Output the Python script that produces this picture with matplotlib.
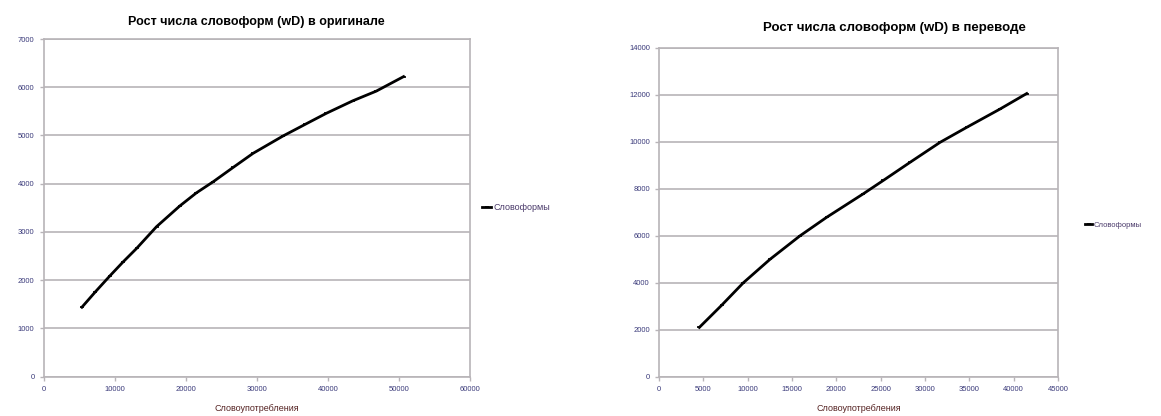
import matplotlib
matplotlib.use("Agg")
import matplotlib.pyplot as plt

# Left chart: original
orig_x = [5400, 7300, 9340, 11200, 13100, 15900, 19180, 21500, 23860, 26700,
          29480, 33700, 36800, 39790, 43530, 46820, 50650]
orig_y = [1440, 1760, 2090, 2380, 2660, 3110, 3540, 3810, 4040, 4340,
          4630, 4990, 5230, 5460, 5720, 5920, 6220]

# Right chart: translation
tr_x = [4550, 7070, 9510, 12520, 15900, 18910, 23040, 25300, 28310, 31690,
        34700, 38460, 41470]
tr_y = [2100, 3045, 4000, 5000, 6000, 6790, 7790, 8360, 9130, 9980,
        10620, 11400, 12060]

titles = ["Рост числа словоформ (wD) в оригинале", "Рост числа словоформ (wD) в переводе"]
xlabel = "Словоупотребления"
legend_label = "Словоформы"

plt.rcParams['font.family'] = ['Liberation Sans', 'DejaVu Sans']
W, H = 1161, 416
fig = plt.figure(figsize=(W / 100, H / 100), dpi=100)

tick_color = "#3a3a7a"
grid_color = "#b8b4b8"

def px_axes(x0, x1, ytop, ybot):
    return [x0 / W, 1 - ybot / H, (x1 - x0) / W, (ybot - ytop) / H]

def style(ax, xlim, xticks, ylim, yticks):
    ax.set_xlim(*xlim)
    ax.set_ylim(*ylim)
    ax.set_xticks(xticks)
    ax.set_yticks(yticks)
    ax.tick_params(labelsize=5.5, colors=grid_color, labelcolor=tick_color, length=3, width=1)
    for s in ax.spines.values():
        s.set_color(grid_color)
        s.set_linewidth(1.2)
    ax.yaxis.grid(True, color=grid_color, linewidth=1.2)
    ax.set_axisbelow(True)

ax1 = fig.add_axes(px_axes(43.5, 470, 39, 376.7))
ax1.plot(orig_x, orig_y, color="black", lw=2.0, marker="_", ms=3, mew=1.2, label=legend_label)
style(ax1, (0, 60000), range(0, 60001, 10000), (0, 7000), range(0, 7001, 1000))
ax1.set_title(titles[0], fontsize=9, fontweight="bold", pad=10)
ax1.set_xlabel(xlabel, fontsize=6.5, color="#552222", labelpad=8)
ax1.legend(loc="center left", bbox_to_anchor=(1.01, 0.5), frameon=False, fontsize=6.5,
           handlelength=1.0, handletextpad=0.2, labelcolor="#4a3a6a")

ax2 = fig.add_axes(px_axes(659, 1058, 48, 376.7))
ax2.plot(tr_x, tr_y, color="black", lw=2.0, marker="_", ms=3, mew=1.2, label=legend_label)
style(ax2, (0, 45000), range(0, 45001, 5000), (0, 14000), range(0, 14001, 2000))
ax2.set_title(titles[1], fontsize=9.5, fontweight="bold", pad=12, x=0.59)
ax2.set_xlabel(xlabel, fontsize=6.5, color="#552222", labelpad=8)
ax2.legend(loc="center left", bbox_to_anchor=(1.05, 0.46), frameon=False, fontsize=5.5,
           handlelength=1.0, handletextpad=0.2, labelcolor="#4a3a6a")

fig.savefig("out.png", dpi=100)
